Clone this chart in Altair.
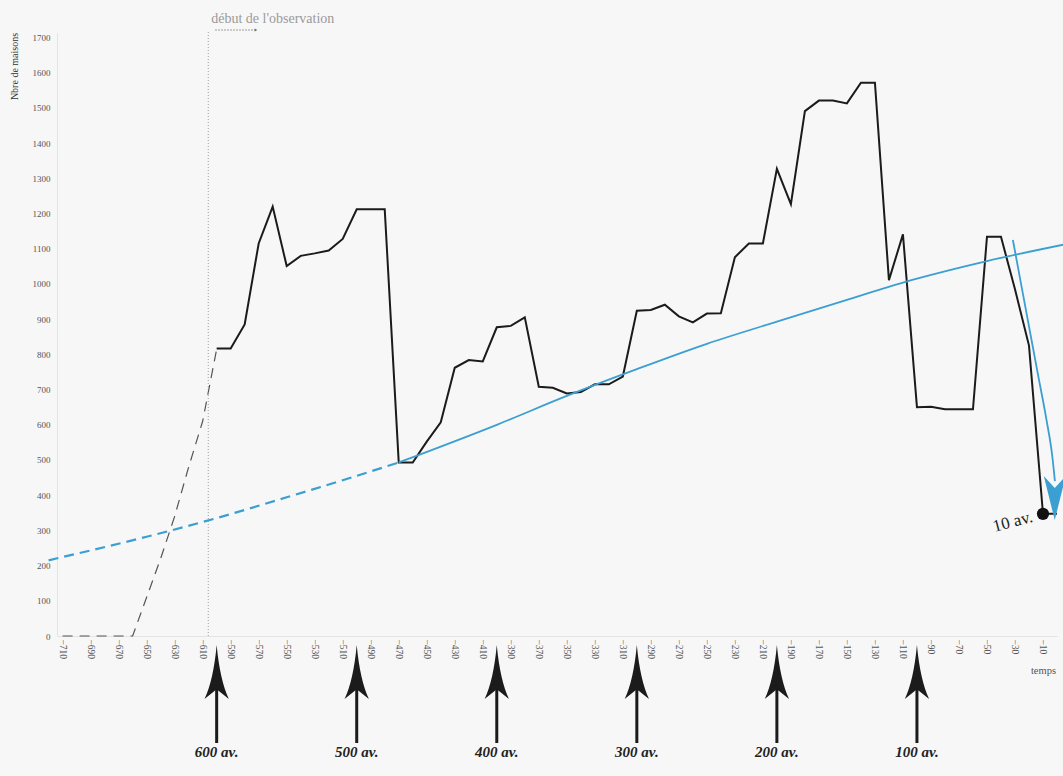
import altair as alt
import pandas as pd

# Number of houses per decade, from the start of observation (-600) to year 0
obs_years = list(range(-600, 1, 10))
houses = [817, 817, 885, 1115, 1220, 1051, 1080, 1087, 1095, 1128,
          1212, 1212, 1212, 493, 493, 552, 607, 762, 784, 780,
          877, 881, 905, 708, 705, 689, 693, 715, 715, 737,
          924, 926, 941, 908, 891, 916, 917, 1076, 1115, 1115,
          1327, 1227, 1491, 1521, 1521, 1513, 1572, 1572, 1011, 1141,
          650, 651, 644, 644, 644, 1134, 1134, 985, 825, 347, 347]

# Presumed growth before the first observation
pre_years = list(range(-710, -599, 10))
pre_houses = [0, 0, 0, 0, 0, 0, 110, 220, 340, 480, 610, 815]

# Trend curve: back-projected part (dashed) and fitted part (solid)
back_years = [-720, -650, -600, -550, -500, -470]
back_values = [215, 282, 335, 394, 455, 493]
trend_years = [-470, -400, -350, -300, -250, -200, -150, -100, -50, 5]
trend_values = [493, 600, 682, 758, 830, 893, 955, 1015, 1065, 1112]

# Decline arrow at the end of the series
decline_years = [-31.5, -25.5, -19.5, -13.5, -7.5, -3.5, -1.5]
decline_values = [1125, 997, 869, 741, 614, 515, 440]
decline_head = {"year": [-1.6], "value": [392]}

# Last observed point
last_point = {"year": [-10], "value": [347], "label": ["10 av."]}

# Start of observation marker
obs_start = {"year": [-606], "label": ["début de l'observation"]}

# Century markers under the axis
century_years = [-600, -500, -400, -300, -200, -100]
century_labels = ["600 av.", "500 av.", "400 av.", "300 av.", "200 av.", "100 av."]

x_ticks = list(range(-710, 0, 20))
y_ticks = list(range(0, 1701, 100))

FONT = "Liberation Serif"
W, H = 1000, 603

xs = alt.Scale(domain=[-714, 0], nice=False, zero=False)
ys = alt.Scale(domain=[0, 1713], nice=False, zero=False)

obs_df = pd.DataFrame({"year": obs_years, "value": houses})
pre_df = pd.DataFrame({"year": pre_years, "value": pre_houses})
back_df = pd.DataFrame({"year": back_years, "value": back_values})
trend_df = pd.DataFrame({"year": trend_years, "value": trend_values})
decline_df = pd.DataFrame({"year": decline_years, "value": decline_values})
cent_df = pd.DataFrame({"year": century_years, "label": century_labels})

x_axis = alt.Axis(values=x_ticks, format="d", labelAngle=90, labelFontSize=9.5,
                  labelColor="#555", labelFont=FONT, labelPadding=3,
                  labelFlush=False, labelOverlap=False,
                  ticks=False, grid=False, domainColor="#e4e4e4",
                  title="temps", titleFont=FONT, titleFontSize=10.5,
                  titleFontWeight="normal", titleColor="#555",
                  titleX=986, titleY=34, titleAlign="center", titleBaseline="middle")
y_axis = alt.Axis(values=y_ticks, format="d", labelFontSize=9, labelColor="#555",
                  labelFont=FONT, labelPadding=7, labelFlush=False, ticks=False,
                  grid=False, domainColor="#e4e4e4",
                  title="Nbre de maisons", titleFont=FONT, titleFontSize=10,
                  titleFontWeight="normal", titleColor="#333",
                  titleAngle=270, titleX=-43, titleY=33,
                  titleAlign="center", titleBaseline="middle")


def xq():
    return alt.X("year:Q", scale=xs, axis=x_axis)


def yq():
    return alt.Y("value:Q", scale=ys, axis=y_axis)


main = alt.Chart(obs_df).mark_line(color="#1b1b1b", strokeWidth=2).encode(x=xq(), y=yq())

pre = alt.Chart(pre_df).mark_line(color="#555", strokeWidth=1.2, strokeDash=[10, 7]).encode(
    x=xq(), y=yq())

back = alt.Chart(back_df).mark_line(color="#3b9fd1", strokeWidth=2.2, strokeDash=[10, 6],
                                    interpolate="monotone").encode(x=xq(), y=yq())
trend = alt.Chart(trend_df).mark_line(color="#3b9fd1", strokeWidth=1.8,
                                      interpolate="monotone").encode(x=xq(), y=yq())

decline = alt.Chart(decline_df).mark_line(color="#3b9fd1", strokeWidth=1.8,
                                          interpolate="monotone").encode(x=xq(), y=yq())
decline_tip = alt.Chart(pd.DataFrame(decline_head)).mark_point(
    shape="M0,1 L-0.5,-1 L0,-0.45 L0.5,-1 Z", size=1936, filled=True,
    color="#3b9fd1", opacity=1).encode(x=xq(), y=yq())

dot = alt.Chart(pd.DataFrame(last_point)).mark_point(
    filled=True, size=150, color="#111", opacity=1).encode(x=xq(), y=yq())
dot_label = alt.Chart(pd.DataFrame(last_point)).mark_text(
    font=FONT, fontSize=17, color="#222", align="right", baseline="middle",
    angle=345, dx=-11, dy=0).encode(x=xq(), y=yq(), text="label:N")

start_rule = alt.Chart(pd.DataFrame(obs_start)).mark_rule(
    color="#8a8a8a", strokeWidth=0.8, strokeDash=[1, 2]).encode(
    x=xq(), y=alt.value(-1), y2=alt.value(H))
start_text = alt.Chart(pd.DataFrame(obs_start)).mark_text(
    font=FONT, fontSize=14, color="#9a9a9a", align="left", baseline="alphabetic",
    dx=3).encode(x=xq(), y=alt.value(-10), text="label:N")
start_arrow = alt.Chart(pd.DataFrame({"year": [-601], "year2": [-573]})).mark_rule(
    color="#666", strokeWidth=0.8, strokeDash=[1.5, 1.5]).encode(
    x=xq(), x2="year2:Q", y=alt.value(-3))
start_arrow_tip = alt.Chart(pd.DataFrame({"year": [-572]})).mark_point(
    shape="triangle-right", size=10, filled=True, color="#666", opacity=1).encode(
    x=xq(), y=alt.value(-3))

cent_shaft = alt.Chart(cent_df).mark_rule(color="#1b1b1b", strokeWidth=3).encode(
    x=xq(), y=alt.value(652), y2=alt.value(710))
cent_head = alt.Chart(cent_df).mark_point(
    shape="M0,-1 Q0.12,0.3 0.45,1 L0,0.64 L-0.45,1 Q-0.12,0.3 0,-1 Z",
    size=2916, filled=True, color="#1b1b1b", opacity=1).encode(
    x=xq(), y=alt.value(639))
cent_text = alt.Chart(cent_df).mark_text(
    font=FONT, fontSize=15, fontStyle="italic", fontWeight="bold", color="#222",
    align="center", baseline="alphabetic").encode(
    x=xq(), y=alt.value(724), text="label:N")

chart = alt.layer(
    main, pre, back, trend, decline, decline_tip, dot, dot_label,
    start_rule, start_text, start_arrow, start_arrow_tip,
    cent_shaft, cent_head, cent_text,
).properties(
    width=W, height=H,
    autosize=alt.AutoSizeParams(type="none"),
    padding={"left": 57, "top": 33, "right": 6, "bottom": 140},
    background="#f7f7f7",
).configure_view(stroke=None)

chart.save("out.html", embed_options={"renderer": "svg", "actions": False})
